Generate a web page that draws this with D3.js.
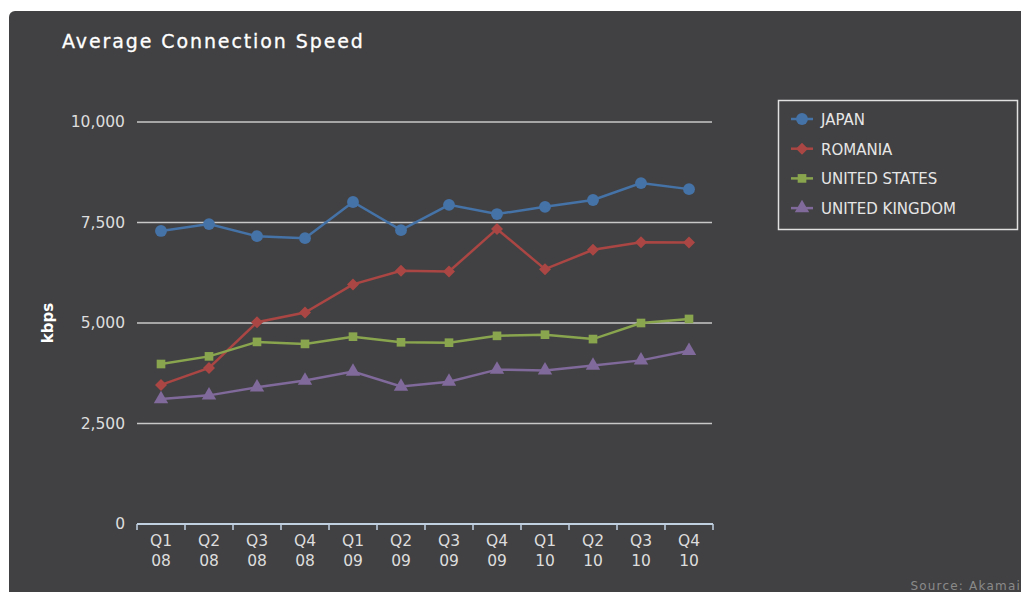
<!DOCTYPE html>
<html>
<head>
<meta charset="utf-8">
<script src="https://cdn.jsdelivr.net/npm/d3@7"></script>
<style>
  body { margin: 0; background: #ffffff; }
  svg { display: block; font-family: "DejaVu Sans", sans-serif; }
</style>
</head>
<body>
<div id="chart"></div>
<script>
// data (kbps)
const quarters = ["Q1 08", "Q2 08", "Q3 08", "Q4 08", "Q1 09", "Q2 09", "Q3 09", "Q4 09", "Q1 10", "Q2 10", "Q3 10", "Q4 10"];
const japan = [7290, 7460, 7160, 7110, 8010, 7310, 7940, 7710, 7890, 8060, 8480, 8330];
const romania = [3460, 3880, 5020, 5260, 5960, 6300, 6280, 7340, 6340, 6820, 7010, 7000];
const unitedStates = [3980, 4170, 4530, 4480, 4660, 4520, 4510, 4680, 4710, 4600, 5000, 5100];
const unitedKingdom = [3110, 3200, 3400, 3570, 3790, 3420, 3540, 3840, 3820, 3940, 4070, 4310];
const yTicks = [0, 2500, 5000, 7500, 10000];

const seriesList = [
    {name: "JAPAN", values: japan, color: "#4572A7", symbol: d3.symbolCircle, size: 110, rot: 0},
    {name: "ROMANIA", values: romania, color: "#AA4643", symbol: d3.symbolSquare, size: 72, rot: 45},
    {name: "UNITED STATES", values: unitedStates, color: "#89A54E", symbol: d3.symbolSquare, size: 75, rot: 0},
    {name: "UNITED KINGDOM", values: unitedKingdom, color: "#80699B", symbol: d3.symbolTriangle, size: 90, rot: 0}
];

const W = 1021, H = 592;
const svg = d3.select("#chart").append("svg")
    .attr("width", W)
    .attr("height", H);

// dark panel
svg.append("rect")
    .attr("x", 9).attr("y", 11)
    .attr("width", W + 20).attr("height", H + 20)
    .attr("rx", 6)
    .attr("fill", "#414143");

svg.append("text")
    .attr("x", 62).attr("y", 48)
    .attr("fill", "#ffffff")
    .attr("font-size", 19)
    .attr("letter-spacing", 1.9)
    .attr("stroke", "#ffffff")
    .attr("stroke-width", 0.3)
    .text("Average Connection Speed");

const plot = {left: 137, right: 713, top: 122, bottom: 524};

const x = d3.scaleBand()
    .domain(quarters)
    .range([plot.left, plot.right]);

const y = d3.scaleLinear()
    .domain([0, 10000])
    .range([plot.bottom, plot.top]);

// grid lines
svg.append("g")
    .selectAll("line")
    .data(yTicks.filter(d => d > 0))
    .enter().append("line")
    .attr("x1", plot.left).attr("x2", plot.right - 1)
    .attr("y1", d => y(d)).attr("y2", d => y(d))
    .attr("stroke", "#c8c8c8")
    .attr("stroke-width", 1.5);

// y labels
svg.append("g")
    .selectAll("text")
    .data(yTicks)
    .enter().append("text")
    .attr("x", 125)
    .attr("y", d => y(d) + 5)
    .attr("text-anchor", "end")
    .attr("fill", "#dddddd")
    .attr("font-size", 15.5)
    .text(d => d3.format(",")(d));

svg.append("text")
    .attr("transform", `translate(53, 323) rotate(-90)`)
    .attr("text-anchor", "middle")
    .attr("fill", "#ffffff")
    .attr("font-size", 15)
    .attr("font-weight", "bold")
    .text("kbps");

// x axis
const xAxis = svg.append("g")
    .attr("transform", `translate(0, ${plot.bottom})`);

xAxis.append("line")
    .attr("x1", plot.left).attr("x2", plot.right)
    .attr("stroke", "#c0d0e0").attr("stroke-width", 2);

xAxis.selectAll(".tick")
    .data(quarters.map(q => x(q)).concat([plot.right]))
    .enter().append("line")
    .attr("class", "tick")
    .attr("x1", d => d).attr("x2", d => d)
    .attr("y1", 0).attr("y2", 6)
    .attr("stroke", "#c0d0e0").attr("stroke-width", 1.5);

const xLabels = xAxis.selectAll(".xlabel")
    .data(quarters)
    .enter().append("text")
    .attr("class", "xlabel")
    .attr("x", d => x(d) + x.bandwidth() / 2)
    .attr("text-anchor", "middle")
    .attr("fill", "#dddddd")
    .attr("font-size", 15.5);

xLabels.append("tspan")
    .attr("x", d => x(d) + x.bandwidth() / 2)
    .attr("y", 22)
    .text(d => d.split(" ")[0]);
xLabels.append("tspan")
    .attr("x", d => x(d) + x.bandwidth() / 2)
    .attr("y", 42)
    .text(d => d.split(" ")[1]);

// series
const line = d3.line()
    .x((d, i) => x(quarters[i]) + x.bandwidth() / 2)
    .y(d => y(d));

seriesList.forEach(s => {
    const g = svg.append("g");
    g.append("path")
        .datum(s.values)
        .attr("d", line)
        .attr("fill", "none")
        .attr("stroke", s.color)
        .attr("stroke-width", 2.5);
    g.selectAll("path.marker")
        .data(s.values)
        .enter().append("path")
        .attr("class", "marker")
        .attr("d", d3.symbol().type(s.symbol).size(s.size))
        .attr("transform", (d, i) => `translate(${x(quarters[i]) + x.bandwidth() / 2}, ${y(d)}) rotate(${s.rot})`)
        .attr("fill", s.color);
});

// legend
const legend = svg.append("g");
legend.append("rect")
    .attr("x", 778.5).attr("y", 100.5)
    .attr("width", 239).attr("height", 129)
    .attr("fill", "none")
    .attr("stroke", "#e0e0e0")
    .attr("stroke-width", 1.5);

const items = legend.selectAll(".item")
    .data(seriesList)
    .enter().append("g")
    .attr("class", "item")
    .attr("transform", (d, i) => `translate(0, ${119 + i * 29.7})`);

items.append("line")
    .attr("x1", 791).attr("x2", 813)
    .attr("stroke", d => d.color)
    .attr("stroke-width", 2.5);
items.append("path")
    .attr("d", d => d3.symbol().type(d.symbol).size(d.size)())
    .attr("transform", d => `translate(802, 0) rotate(${d.rot})`)
    .attr("fill", d => d.color);
items.append("text")
    .attr("x", 821).attr("y", 6)
    .attr("fill", "#e6e6e6")
    .attr("font-size", 15)
    .text(d => d.name);

svg.append("text")
    .attr("x", 1021).attr("y", 590)
    .attr("text-anchor", "end")
    .attr("fill", "#8a8a8a")
    .attr("font-size", 12)
    .attr("letter-spacing", 1.2)
    .text("Source: Akamai");
</script>
</body>
</html>
